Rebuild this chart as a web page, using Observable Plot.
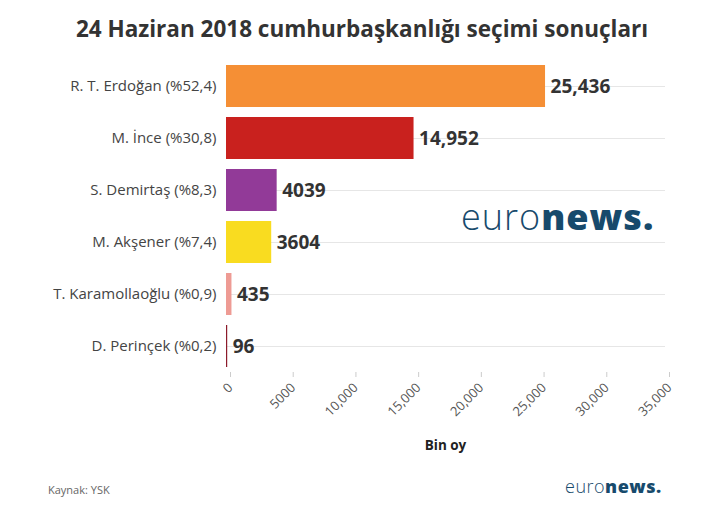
<!DOCTYPE html>
<html>
<head>
<meta charset="utf-8">
<script src="https://cdn.jsdelivr.net/npm/d3@7"></script>
<script src="https://cdn.jsdelivr.net/npm/@observablehq/plot@0.6"></script>
<style>
  html, body { margin: 0; padding: 0; background: #fff; }
  #wrap { position: relative; width: 716px; height: 528px; font-family: "Open Sans", sans-serif; overflow: hidden; }
  #title { position: absolute; top: 13px; left: 0; width: 724px; text-align: center; font-size: 22.5px; font-weight: 700; color: #333; }
  #xlabel { position: absolute; top: 436px; left: 226px; width: 439px; text-align: center; font-size: 13.5px; font-weight: 700; color: #222; }
  #caption { position: absolute; top: 482px; left: 48px; font-size: 11px; color: #666; }
  .logo { position: absolute; color: #174a6c; white-space: nowrap; letter-spacing: 1px; }
  .logo .a { font-weight: 300; }
  .logo .b { font-weight: 800; }
  #logo1 { top: 192px; left: 461px; font-size: 36px; }
  #logo2 { top: 474px; left: 565px; font-size: 18px; letter-spacing: 0.5px; }
  #chart { position: absolute; top: 0; left: 0; }
</style>
</head>
<body>
<div id="wrap">
  <div id="chart"></div>
  <div id="title">24 Haziran 2018 cumhurbaşkanlığı seçimi sonuçları</div>
  <div id="xlabel">Bin oy</div>
  <div id="caption">Kaynak: YSK</div>
  <div class="logo" id="logo1"><span class="a">euro</span><span class="b">news.</span></div>
  <div class="logo" id="logo2"><span class="a">euro</span><span class="b">news.</span></div>
</div>
<script>
const candidates = ["R. T. Erdoğan (%52,4)", "M. İnce (%30,8)", "S. Demirtaş (%8,3)", "M. Akşener (%7,4)", "T. Karamollaoğlu (%0,9)", "D. Perinçek (%0,2)"];
const votes = [25436, 14952, 4039, 3604, 435, 96];
const colors = ["#f58f35", "#c9211e", "#923a98", "#f9dc20", "#ee9b94", "#8c1b2b"];
const xTicks = [0, 5000, 10000, 15000, 20000, 25000, 30000, 35000];

const fmt = n => n >= 10000 ? d3.format(",")(n) : String(n);
const data = candidates.map((c, i) => ({name: c, value: votes[i], color: colors[i]}));

const chart = Plot.plot({
  width: 716,
  height: 528,
  marginTop: 60,
  marginBottom: 156,
  marginLeft: 226,
  marginRight: 51,
  style: {fontFamily: "Open Sans, sans-serif", background: "transparent"},
  x: {domain: [0, 35000], ticks: xTicks, tickFormat: fmt, label: null, tickRotate: -45},
  y: {domain: candidates, label: null, paddingInner: 0.2, paddingOuter: 0.1},
  marks: [
    Plot.ruleY(candidates, {stroke: "#e6e6e6", x1: 0, x2: 35000}),
    Plot.axisX({ticks: xTicks, tickFormat: fmt, tickRotate: -45, tickSize: 5, stroke: "#ccc", fill: "#555", fontSize: 13, tickPadding: 8, dx: 4, label: null}),
    Plot.axisY({tickSize: 0, tickPadding: 10, fill: "#444", fontSize: 15, label: null}),
    Plot.ruleY([0], {frameAnchor: "bottom", stroke: "#ddd"}),
    Plot.barX(data, {y: "name", x: "value", fill: "color"}),
    Plot.text(data, {y: "name", x: "value", text: d => fmt(d.value), dx: 5, textAnchor: "start", fontSize: 19, fontWeight: 700, fill: "#333"})
  ]
});
document.getElementById("chart").appendChild(chart);
</script>
</body>
</html>
